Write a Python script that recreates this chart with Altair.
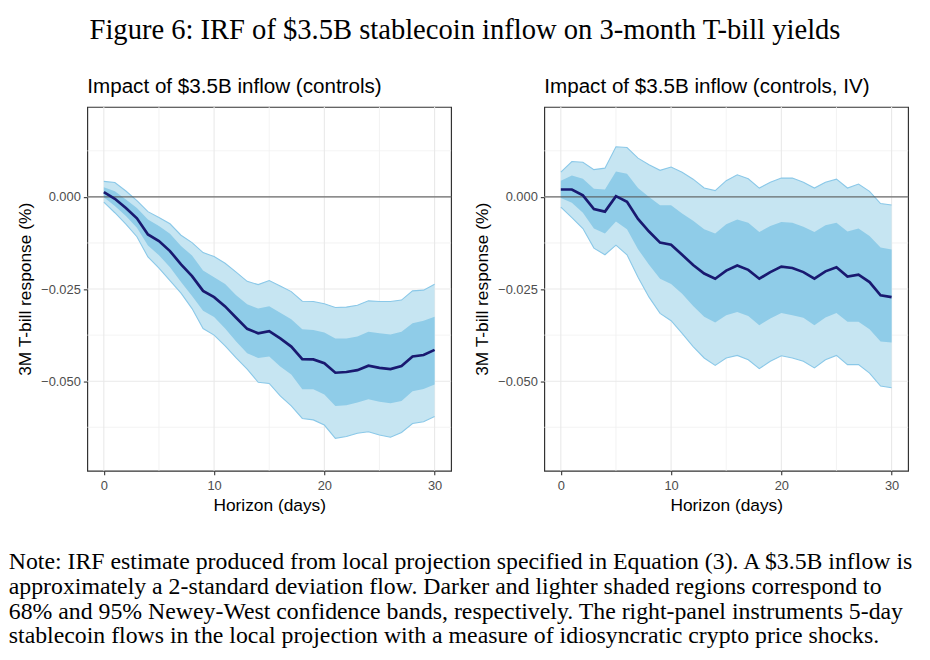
import altair as alt
import pandas as pd

H = list(range(31))

# Left panel (controls), values in thousandths of a percentage point
L_MEAN = [1.3, -0.5, -3.0, -5.8, -10.2, -12.0, -14.7, -18.3, -21.5, -25.5, -27.2, -29.7, -32.8, -35.8, -37.0,
          -36.4, -38.4, -40.6, -44.0, -44.1, -45.1, -47.7, -47.5, -47.0, -45.8, -46.4, -46.7, -45.9, -43.3, -42.9, -41.5]
L_HI95 = [4.2, 3.9, 1.6, -1.0, -4.0, -5.6, -7.3, -10.4, -12.4, -15.1, -16.2, -18.0, -20.4, -22.9, -23.8,
          -22.7, -24.2, -25.7, -28.3, -28.4, -29.0, -30.0, -29.9, -29.4, -28.2, -28.4, -28.4, -28.0, -25.5, -25.3, -23.7]
L_LO95 = [-1.4, -4.3, -7.4, -10.8, -16.3, -19.3, -22.7, -26.1, -30.3, -35.7, -37.5, -40.4, -43.7, -46.7, -50.3,
          -50.6, -54.0, -56.7, -60.1, -60.5, -61.9, -65.5, -65.0, -64.1, -63.7, -64.6, -65.2, -63.9, -61.5, -61.0, -59.6]
L_HI68 = [2.6, 1.5, -0.7, -3.0, -6.1, -7.9, -10.0, -13.3, -15.9, -20.0, -21.8, -23.6, -26.7, -29.1, -30.3,
          -29.7, -31.4, -33.2, -35.9, -36.1, -36.8, -38.4, -38.4, -37.9, -36.6, -37.0, -37.3, -36.6, -34.3, -33.6, -32.5]
L_LO68 = [-0.1, -2.5, -5.2, -8.4, -13.2, -15.8, -19.1, -23.1, -26.9, -30.9, -32.6, -35.7, -39.2, -42.4, -43.7,
          -43.3, -46.0, -48.2, -52.2, -52.2, -53.6, -56.7, -56.5, -55.8, -54.9, -55.6, -56.0, -55.4, -52.7, -52.1, -50.9]

# Right panel (controls, IV)
R_MEAN = [2.0, 2.0, 0.4, -3.3, -4.0, 0.2, -1.3, -6.0, -9.4, -12.4, -13.0, -15.7, -18.5, -20.8, -22.2,
          -20.0, -18.6, -19.8, -22.2, -20.4, -18.9, -19.3, -20.4, -22.2, -20.2, -19.1, -21.6, -21.1, -23.1, -26.7, -27.2]
R_HI95 = [6.7, 9.6, 9.4, 7.4, 7.8, 13.6, 13.4, 10.5, 8.7, 7.2, 8.1, 6.7, 4.8, 2.4, 1.7,
          4.4, 6.0, 4.9, 2.4, 4.0, 5.1, 5.1, 4.0, 2.4, 4.0, 4.8, 2.4, 3.5, 1.5, -1.8, -2.2]
R_LO95 = [-2.8, -5.6, -8.6, -13.9, -15.7, -13.1, -15.7, -21.8, -27.2, -31.6, -33.6, -37.0, -40.6, -43.7, -45.7,
          -43.7, -43.0, -44.2, -46.6, -44.6, -43.1, -43.7, -44.6, -46.4, -44.2, -43.0, -45.5, -45.5, -47.8, -51.3, -51.8]
R_HI68 = [4.4, 5.8, 4.9, 2.2, 2.0, 6.9, 6.3, 2.4, 0.0, -2.3, -2.3, -4.5, -6.5, -8.8, -9.9,
          -7.4, -6.1, -7.0, -9.5, -7.9, -6.8, -7.0, -8.1, -9.5, -7.7, -7.0, -9.4, -8.6, -10.6, -13.7, -14.3]
R_LO68 = [-0.3, -1.6, -4.3, -8.6, -9.9, -6.7, -8.8, -14.2, -18.4, -22.2, -23.6, -26.3, -29.6, -32.5, -34.1,
          -32.1, -31.2, -32.3, -34.8, -33.0, -31.5, -32.1, -32.8, -34.8, -32.7, -31.5, -33.9, -33.9, -35.9, -39.2, -39.5]

X_TICKS = [0, 10, 20, 30]
Y_TICKS = [-0.05, -0.025, 0.0]
X_MINOR = [5, 15, 25]
Y_MINOR = [-0.0625, -0.0375, -0.0125, 0.0125]

MAIN_TITLE = "Figure 6: IRF of $3.5B stablecoin inflow on 3-month T-bill yields"
LEFT_TITLE = "Impact of $3.5B inflow (controls)"
RIGHT_TITLE = "Impact of $3.5B inflow (controls, IV)"
NOTE = [
    "Note: IRF estimate produced from local projection specified in Equation (3).  A $3.5B inflow is",
    "approximately a 2-standard deviation flow. Darker and lighter shaded regions correspond to",
    "68% and 95% Newey-West confidence bands, respectively. The right-panel instruments 5-day",
    "stablecoin flows in the local projection with a measure of idiosyncratic crypto price shocks.",
]

SANS = "Liberation Sans"
SERIF = "Liberation Serif"

xscale = alt.Scale(domain=[-1.5, 31.5], nice=False, zero=False)
yscale = alt.Scale(domain=[-0.0743, 0.0244], nice=False, zero=False)
common_axis = dict(grid=False, domain=False, tickColor="#333333", tickSize=4, tickWidth=1.1,
                   labelColor="#4d4d4d", labelFontSize=13, labelFont=SANS, titleFont=SANS,
                   titleFontSize=17.5, titleFontWeight="normal", titleColor="black")
xaxis = alt.Axis(values=X_TICKS, title="Horizon (days)", labelPadding=5, titlePadding=4, **common_axis)
yaxis = alt.Axis(values=Y_TICKS, format=".3f", title="3M T-bill response (%)", labelPadding=3,
                 titlePadding=6, labelExpr="replace(datum.label, '-', '\u2212')", **common_axis)


def panel(mean, hi95, lo95, hi68, lo68, title):
    df = pd.DataFrame({
        "h": H,
        "mean": [v / 1000 for v in mean],
        "hi95": [v / 1000 for v in hi95],
        "lo95": [v / 1000 for v in lo95],
        "hi68": [v / 1000 for v in hi68],
        "lo68": [v / 1000 for v in lo68],
    })
    gx_major = pd.DataFrame({"h": X_TICKS})
    gx_minor = pd.DataFrame({"h": X_MINOR})
    gy_major = pd.DataFrame({"mean": Y_TICKS})
    gy_minor = pd.DataFrame({"mean": Y_MINOR})

    X = alt.X("h:Q", scale=xscale, axis=xaxis)

    def Y(f):
        return alt.Y(f + ":Q", scale=yscale, axis=yaxis)

    grid_minor_x = alt.Chart(gx_minor).mark_rule(color="#f0f0f0", strokeWidth=0.8).encode(x=X)
    grid_major_x = alt.Chart(gx_major).mark_rule(color="#e9e9e9", strokeWidth=1.1).encode(x=X)
    grid_minor_y = alt.Chart(gy_minor).mark_rule(color="#f0f0f0", strokeWidth=0.8).encode(y=Y("mean"))
    grid_major_y = alt.Chart(gy_major).mark_rule(color="#e9e9e9", strokeWidth=1.1).encode(y=Y("mean"))

    base = alt.Chart(df)
    light = base.mark_area(color="#c6e5f2", opacity=1).encode(x=X, y=Y("lo95"), y2="hi95:Q")
    dark = base.mark_area(color="#8fcce8", opacity=1).encode(x=X, y=Y("lo68"), y2="hi68:Q")
    edge_hi = base.mark_line(color="#8ac8e8", strokeWidth=1.1).encode(x=X, y=Y("hi95"))
    edge_lo = base.mark_line(color="#8ac8e8", strokeWidth=1.1).encode(x=X, y=Y("lo95"))
    zero = alt.Chart(gy_major).transform_filter("datum.mean == 0").mark_rule(
        color="#555555", strokeWidth=1.4, opacity=0.85).encode(y=Y("mean"))
    line = base.mark_line(color="#191970", strokeWidth=2.7).encode(x=X, y=Y("mean"))

    return alt.layer(grid_minor_x, grid_minor_y, grid_major_x, grid_major_y,
                     light, dark, edge_hi, edge_lo, zero, line).properties(
        width=367, height=367,
        title=alt.TitleParams(title, anchor="start", frame="group", font=SANS, fontSize=20.8,
                              fontWeight="normal", color="black", offset=9))


left = panel(L_MEAN, L_HI95, L_LO95, L_HI68, L_LO68, LEFT_TITLE)
right = panel(R_MEAN, R_HI95, R_LO95, R_HI68, R_LO68, RIGHT_TITLE)

inner = alt.hconcat(left, right, spacing=20).properties(
    title=alt.TitleParams(NOTE, orient="bottom", anchor="start", font=SERIF, fontSize=24,
                          lineHeight=25, fontWeight="normal", color="black", offset=36, dx=-7.5))

chart = alt.vconcat(inner).properties(
    padding={"left": 0, "top": 5, "right": 0, "bottom": 0},
    background="white",
    title=alt.TitleParams(MAIN_TITLE, anchor="middle", font=SERIF, fontSize=28.8,
                          fontWeight="normal", color="black", offset=31)
).configure_view(stroke="#333333", strokeWidth=1.2)

chart.save("out.html", embed_options={"renderer": "svg", "actions": False})
